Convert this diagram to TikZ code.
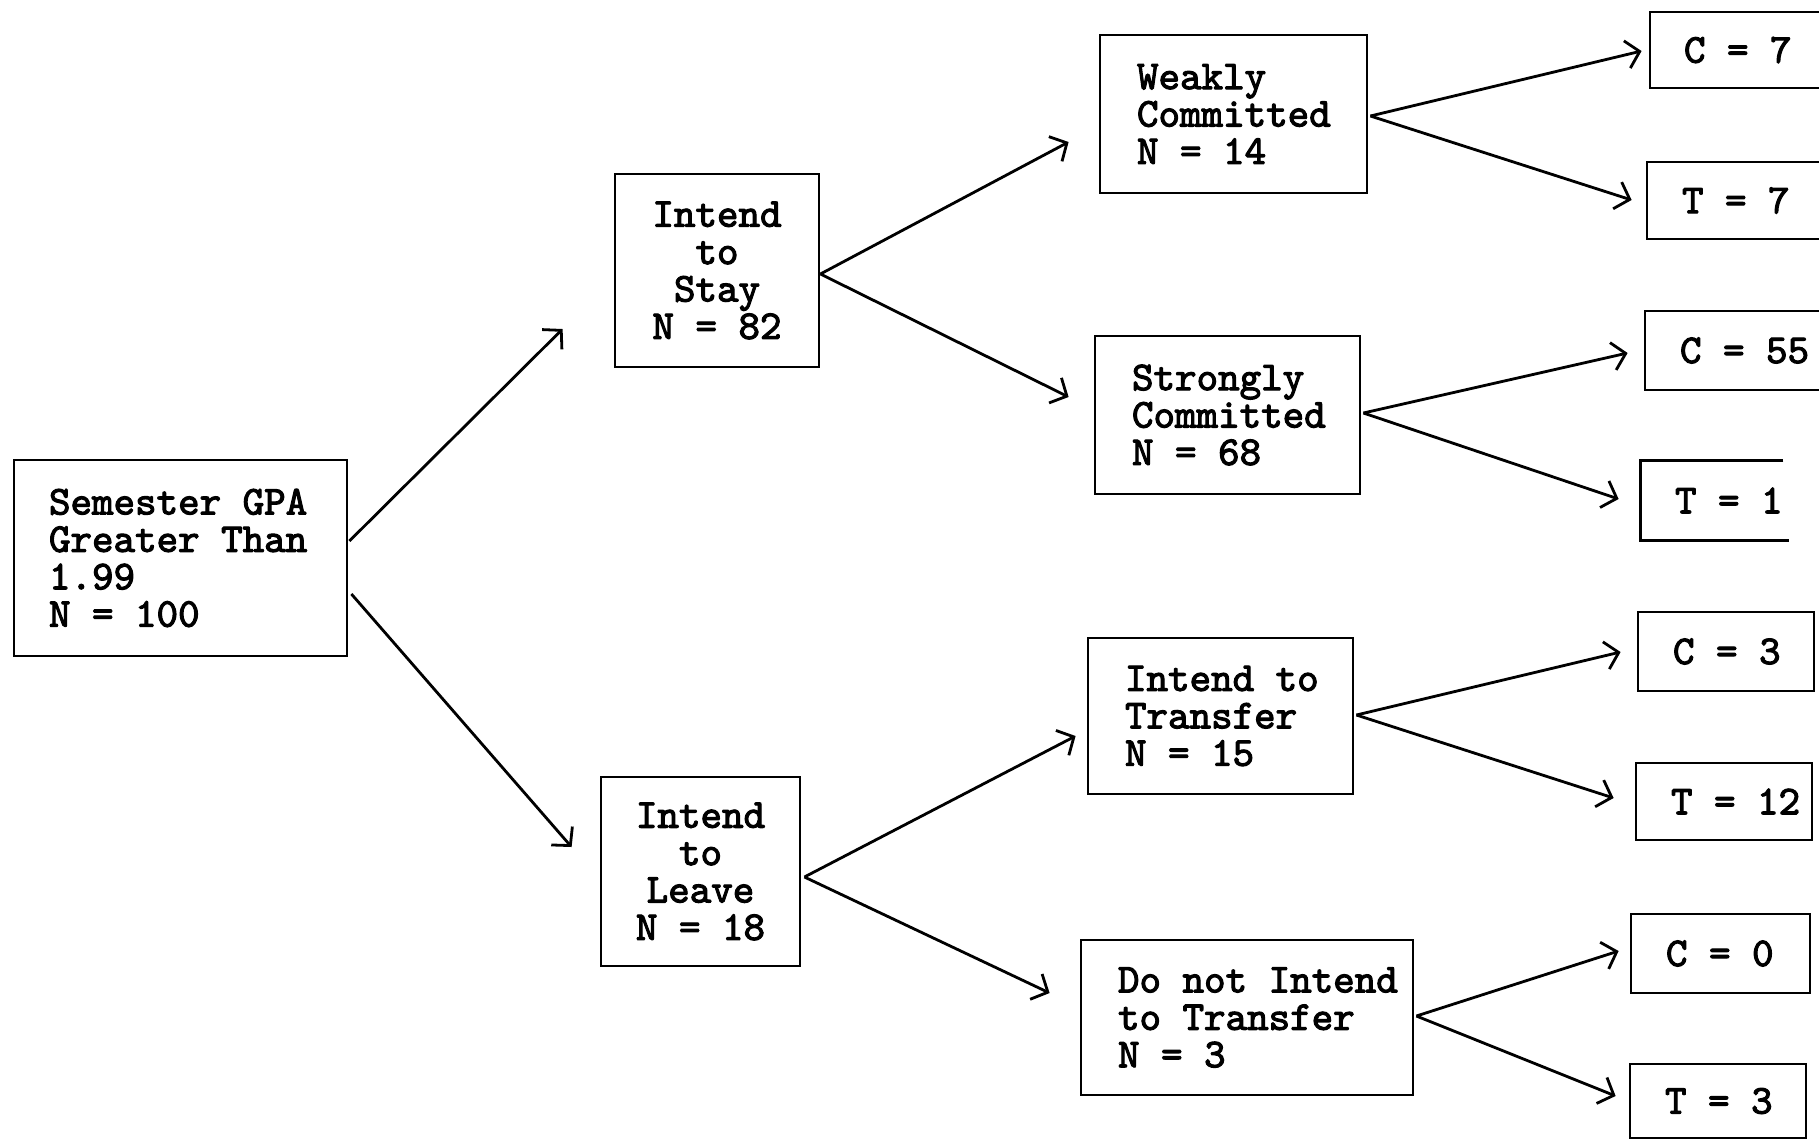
\documentclass[tikz,border=0pt]{standalone}
\usepackage{fontspec}
\newfontfamily\twfont{lmmono10-regular.otf}[FakeBold=2.6]
\usetikzlibrary{arrows.meta,calc}
\newcommand\tsp{\hspace*{0.525em}}
\begin{document}
\begin{tikzpicture}[x=0.5pt,y=-0.5pt,
  box/.style={draw, line width=1.4pt, inner sep=0pt,
    font=\twfont\fontsize{20.5pt}{18.7pt}\selectfont},
  lbox/.style={box, align=left},
  cbox/.style={box, align=center},
  arr/.style={line width=1.4pt, -{Straight Barb[length=6.5pt,width=14pt]}}]
\fill[white] (0,0) rectangle (1819,1141);
\useasboundingbox (0,0) rectangle (1819,1141);

% level 0
\node[lbox, minimum width=166.5pt, minimum height=98pt, text width=131.5pt] (root) at (180.5,558)
  {\mbox{Semester\tsp GPA}\\\mbox{Greater\tsp Than}\\1.99\\\mbox{N\tsp=\tsp 100}};
% level 1
\node[cbox, minimum width=102pt, minimum height=96.5pt] (stay) at (717,270.5)
  {Intend\\to\\Stay\\\mbox{N\tsp=\tsp 82}};
\node[cbox, minimum width=99.5pt, minimum height=94.5pt] (leave) at (700.5,871.5)
  {Intend\\to\\Leave\\\mbox{N\tsp=\tsp 18}};
% level 2
\node[lbox, minimum width=133.5pt, minimum height=79pt, text width=96.5pt] (weak) at (1233.5,114)
  {\mbox{Weakly}\\\mbox{Committed}\\\mbox{N\tsp=\tsp 14}};
\node[lbox, minimum width=132.5pt, minimum height=79pt, text width=95.5pt] (strong) at (1227.5,415)
  {\mbox{Strongly}\\\mbox{Committed}\\\mbox{N\tsp=\tsp 68}};
\node[lbox, minimum width=132.5pt, minimum height=78pt, text width=95.5pt] (transfer) at (1220.5,716)
  {\mbox{Intend\tsp to}\\\mbox{Transfer}\\\mbox{N\tsp=\tsp 15}};
\node[lbox, minimum width=166pt, minimum height=77.5pt, text width=129pt] (donot) at (1247,1017.5)
  {\mbox{Do\tsp not\tsp Intend}\\\mbox{to\tsp Transfer}\\\mbox{N\tsp=\tsp 3}};
% leaves
\node[lbox, minimum width=87.5pt, minimum height=38pt, text width=53.5pt] (c7) at (1737.5,50) {\mbox{C\tsp=\tsp 7}};
\node[lbox, minimum width=89pt, minimum height=38.5pt, text width=54pt] (t7) at (1736,200.5) {\mbox{T\tsp=\tsp 7}};
\node[lbox, minimum width=90pt, minimum height=39.5pt, text width=55pt] (c55) at (1735,350.5) {\mbox{C\tsp=\tsp 55}};
\node[lbox, draw=none, minimum width=70pt, minimum height=38.5pt, text width=37pt] (t1) at (1712,500.5) {\mbox{T\tsp=\tsp 1}};
\draw[line width=1.4pt] (t1.north east) -- (t1.north west) -- (t1.south west) -- ([xshift=3pt]t1.south east);
\node[lbox, minimum width=88pt, minimum height=39.5pt, text width=53pt] (c3) at (1726,651.5) {\mbox{C\tsp=\tsp 3}};
\node[lbox, minimum width=88pt, minimum height=38.5pt, text width=53pt] (t12) at (1724,801.5) {\mbox{T\tsp=\tsp 12}};
\node[lbox, minimum width=89.5pt, minimum height=39.5pt, text width=54.5pt] (c0) at (1720.5,953.5) {\mbox{C\tsp=\tsp 0}};
\node[lbox, minimum width=88pt, minimum height=37pt, text width=53pt] (t3) at (1718,1101) {\mbox{T\tsp=\tsp 3}};

% connectors
\draw[arr] ($(root.east)+(1,-17)$) -- ($(stay.west)+(-51,58.5)$);
\draw[arr] ($(root.east)+(3,36)$) -- ($(leave.west)+(-28,-24.5)$);
\draw[arr] ($(stay.east)+(0,3.5)$) -- ($(weak.west)+(-30,28)$);
\draw[arr] ($(stay.east)+(0,3.5)$) -- ($(strong.west)+(-25,-18)$);
\draw[arr] ($(leave.east)+(3,5.5)$) -- ($(transfer.west)+(-11,20)$);
\draw[arr] ($(leave.east)+(3,5.5)$) -- ($(donot.west)+(-30,-24.5)$);
\draw[arr] ($(weak.east)+(2,2)$) -- ($(c7.west)+(-7,1)$);
\draw[arr] ($(weak.east)+(2,2)$) -- ($(t7.west)+(-14,-0.5)$);
\draw[arr] ($(strong.east)+(2,-2)$) -- ($(c55.west)+(-16,2.5)$);
\draw[arr] ($(strong.east)+(2,-2)$) -- ($(t1.west)+(-22,-1.5)$);
\draw[arr] ($(transfer.east)+(2,-1)$) -- ($(c3.west)+(-16,0.5)$);
\draw[arr] ($(transfer.east)+(2,-1)$) -- ($(t12.west)+(-21,-3.5)$);
\draw[arr] ($(donot.east)+(2,-1.5)$) -- ($(c0.west)+(-11,-2.5)$);
\draw[arr] ($(donot.east)+(2,-1.5)$) -- ($(t3.west)+(-13,-5)$);
\end{tikzpicture}
\end{document}
